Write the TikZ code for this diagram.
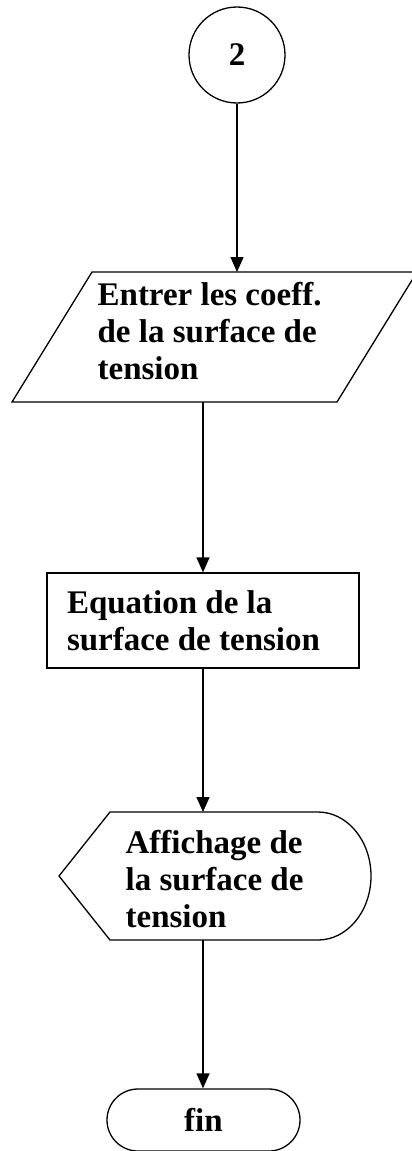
\documentclass[tikz,border=0pt]{standalone}
\usepackage{fontspec}
\setmainfont{Liberation Serif}
\usetikzlibrary{arrows.meta, shapes.misc}

\begin{document}
\begin{tikzpicture}[x=1pt, y=-1pt, line width=1.3pt,
  every node/.style={font=\fontsize{33}{37}\selectfont\bfseries, inner sep=0pt},
  fleche/.style={-{Triangle[length=15pt, width=13pt]}}]
  \clip (0,0) rectangle (412,1151);
  \useasboundingbox (0,0) rectangle (412,1151);

  % connecteur de renvoi
  \node[draw, circle, minimum size=96pt] (deux) at (237,55) {2};

  % lecture des coefficients
  \draw (92,272) -- (417,272) -- (337,402) -- (12,402) -- cycle;
  \node[anchor=north west, align=flush left] (entrer) at (97,282)
    {Entrer les coeff.\\de la surface de\\tension};
  \coordinate (entrerhaut) at (237,272);
  \coordinate (entrerbas) at (203,402);

  % calcul
  \node[draw, minimum width=312pt, minimum height=95pt, text width=272pt,
    align=flush left] (equation) at (203,620.5)
    {Equation de la\\surface de tension};

  % affichage
  \draw (110,812) -- (318,812)
    arc[start angle=-90, end angle=90, x radius=53, y radius=64]
    -- (110,940) -- (59,876) -- cycle;
  \node[anchor=north west, align=flush left] (affichage) at (125,830)
    {Affichage de\\la surface de\\tension};
  \coordinate (affhaut) at (203,812);
  \coordinate (affbas) at (203,940);

  % fin
  \node[draw, rounded rectangle, minimum width=193pt, minimum height=62pt]
    (fin) at (203.5,1120) {fin};

  \draw[fleche] (deux) -- (entrerhaut);
  \draw[fleche] (entrerbas) -- (equation);
  \draw[fleche] (equation) -- (affhaut);
  \draw[fleche] (affbas) -- (affbas |- fin.north);
\end{tikzpicture}
\end{document}
